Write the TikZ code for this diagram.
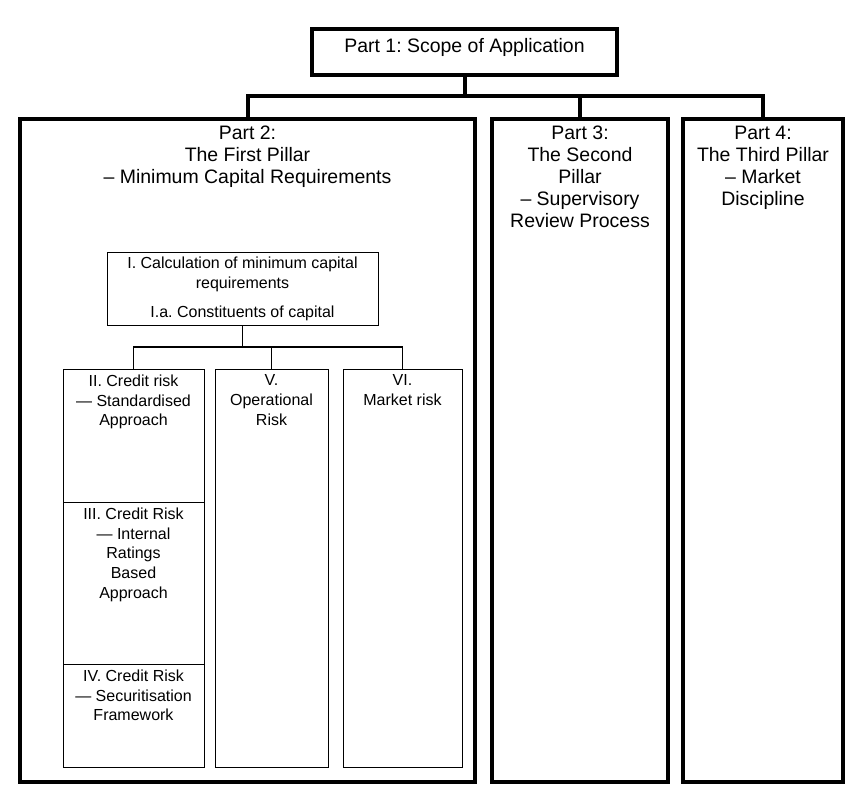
\documentclass[tikz,border=0pt]{standalone}
\usepackage{fontspec}
\setmainfont{Liberation Sans}
\frenchspacing

\tikzset{
    partbox/.style={draw, line width=3pt, inner sep=0pt},
    subbox/.style={draw, line width=0.75pt, inner sep=0pt},
    parttext/.style={anchor=north, inner sep=0pt, align=center, font=\fontsize{14.6}{16.5}\selectfont},
    subtext/.style={anchor=north, inner sep=0pt, align=center, font=\fontsize{12}{14.8}\selectfont},
}

\begin{document}
\begin{tikzpicture}[x=0.75pt,y=0.75pt,yscale=-1,xscale=1]
            \useasboundingbox (0,0) rectangle (866,809);

            % Parts
            \node [partbox, minimum width=228.75pt, minimum height=34.5pt]  (p1) at (464.5,52)  {};
            \node [partbox, minimum width=341.25pt, minimum height=497.25pt] (p2) at (247.5,450.5) {};
            \node [partbox, minimum width=132pt,    minimum height=497.25pt] (p3) at (580,450.5) {};
            \node [partbox, minimum width=120pt,    minimum height=497.25pt] (p4) at (763,450.5) {};

            % Top connectors
            \coordinate (hub) at (464.5,96);
            \draw [line width=3pt] (p1.south) -- (hub);
            \draw [line width=3pt] (p2.north) -- (p2.north |- hub) -- (p4.north |- hub) -- (p4.north);
            \draw [line width=3pt] (p3.north) -- (p3.north |- hub);

            % First pillar boxes
            \node [subbox, minimum width=203.25pt, minimum height=54.75pt] (calc)   at (242.5,288.5) {};
            \node [subbox, minimum width=105.75pt, minimum height=99.75pt] (cr2)    at (133.5,435.5) {};
            \node [subbox, minimum width=105.75pt, minimum height=121.5pt] (cr3)    at (133.5,583)   {};
            \node [subbox, minimum width=105.75pt, minimum height=77.25pt] (cr4)    at (133.5,715.5) {};
            \node [subbox, minimum width=84.75pt,  minimum height=298.5pt] (oprisk) at (271.5,568)   {};
            \node [subbox, minimum width=89.25pt,  minimum height=298.5pt] (mkrisk) at (402.5,568)   {};

            % Inner connectors
            \coordinate (subhub) at (242.5,347);
            \draw [line width=1pt] (calc.south) -- (subhub);
            \draw [line width=1pt] (cr2.north) -- (cr2.north |- subhub) -- (mkrisk.north |- subhub) -- (mkrisk.north);
            \draw [line width=1pt] (oprisk.north) -- (oprisk.north |- subhub);

            % Labels
            \node [parttext] (t1) at (464.5,38)  {Part 1: Scope of Application};
            \node [parttext] (t2) at (247.5,126) {Part 2:\\The First Pillar\\– Minimum Capital Requirements};
            \node [parttext] (t3) at (580,126)   {Part 3:\\The Second\\Pillar\\– Supervisory\\Review Process};
            \node [parttext] (t4) at (763,126)   {Part 4:\\The Third Pillar\\– Market\\Discipline};

            \node [subtext] (tcalc) at (242.5,256.5) {I. Calculation of minimum capital\\requirements\\[7.5pt]I.a. Constituents of capital};
            \node [subtext] (tcr2)  at (133.5,374.5) {II. Credit risk\\— Standardised\\Approach};
            \node [subtext] (tcr3)  at (133.5,507.5) {III. Credit Risk\\— Internal\\Ratings\\Based\\Approach};
            \node [subtext] (tcr4)  at (133.5,669.5) {IV. Credit Risk\\— Securitisation\\Framework};
            \node [subtext] (top)   at (271.5,374.5) {V.\\Operational\\Risk};
            \node [subtext] (tmk)   at (402.5,374.5) {VI.\\Market risk};

\end{tikzpicture}
\end{document}
